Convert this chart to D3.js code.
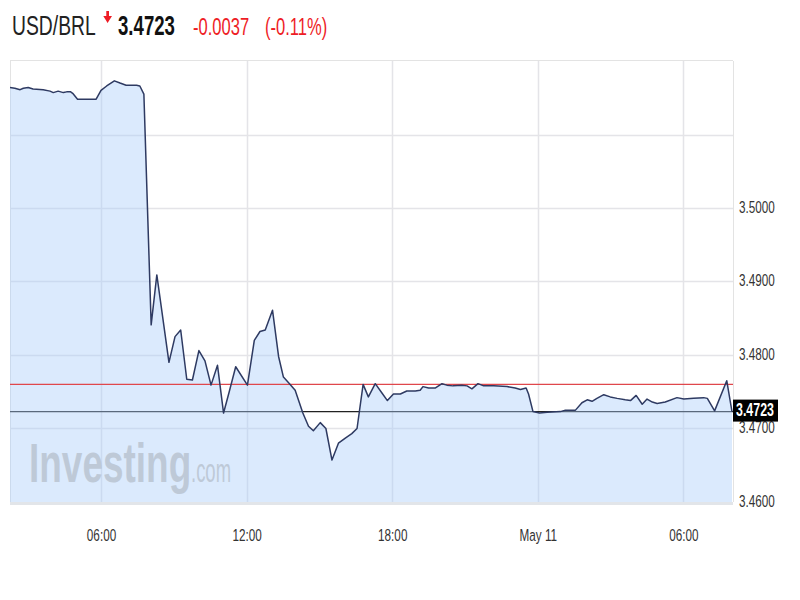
<!DOCTYPE html>
<html><head><meta charset="utf-8">
<script src="https://cdn.jsdelivr.net/npm/d3@7"></script>
<style>
body{margin:0;background:#fff}
svg{display:block}
text{font-family:"Liberation Sans",Arial,sans-serif}
</style>
</head><body>
<svg id="chart" width="800" height="600"></svg>
<script>
// ---- data ----
const symbol = "USD/BRL";
const lastPrice = "3.4723";
const change = "-0.0037";
const changePct = "(-0.11%)";
const prevClose = 3.4760;
const lastValue = 3.4723;

const times = [
 "2016-05-10 02:15","2016-05-10 02:27","2016-05-10 02:40","2016-05-10 02:48","2016-05-10 03:00",
 "2016-05-10 03:12","2016-05-10 03:37","2016-05-10 03:54","2016-05-10 04:02","2016-05-10 04:14",
 "2016-05-10 04:27","2016-05-10 04:35","2016-05-10 04:45","2016-05-10 04:50","2016-05-10 05:02",
 "2016-05-10 05:48","2016-05-10 06:00","2016-05-10 06:14","2016-05-10 06:33","2016-05-10 06:47",
 "2016-05-10 07:02","2016-05-10 07:28","2016-05-10 07:36","2016-05-10 07:46","2016-05-10 08:04",
 "2016-05-10 08:18","2016-05-10 08:48","2016-05-10 09:03","2016-05-10 09:17","2016-05-10 09:32",
 "2016-05-10 09:46","2016-05-10 10:02","2016-05-10 10:17","2016-05-10 10:32","2016-05-10 10:48",
 "2016-05-10 11:03","2016-05-10 11:17","2016-05-10 11:33","2016-05-10 12:02","2016-05-10 12:19",
 "2016-05-10 12:33","2016-05-10 12:46","2016-05-10 13:04","2016-05-10 13:19","2016-05-10 13:31",
 "2016-05-10 13:46","2016-05-10 14:00","2016-05-10 14:19","2016-05-10 14:33","2016-05-10 14:45",
 "2016-05-10 15:02","2016-05-10 15:16","2016-05-10 15:31","2016-05-10 15:47","2016-05-10 16:04",
 "2016-05-10 16:20","2016-05-10 16:33","2016-05-10 16:48","2016-05-10 17:01","2016-05-10 17:18",
 "2016-05-10 17:35","2016-05-10 17:48","2016-05-10 18:03","2016-05-10 18:20","2016-05-10 18:36",
 "2016-05-10 18:57","2016-05-10 19:09","2016-05-10 19:16","2016-05-10 19:30","2016-05-10 19:46",
 "2016-05-10 20:03","2016-05-10 20:15","2016-05-10 20:30","2016-05-10 20:52","2016-05-10 21:05",
 "2016-05-10 21:17","2016-05-10 21:32","2016-05-10 21:46","2016-05-10 22:11","2016-05-10 22:44",
 "2016-05-10 23:04","2016-05-10 23:17","2016-05-10 23:31","2016-05-10 23:37","2016-05-10 23:48",
 "2016-05-11 00:04","2016-05-11 00:23","2016-05-11 00:56","2016-05-11 01:08","2016-05-11 01:33",
 "2016-05-11 01:49","2016-05-11 02:02","2016-05-11 02:14","2016-05-11 02:26","2016-05-11 02:43",
 "2016-05-11 02:59","2016-05-11 03:16","2016-05-11 03:36","2016-05-11 03:49","2016-05-11 04:03",
 "2016-05-11 04:18","2016-05-11 04:30","2016-05-11 04:43","2016-05-11 04:55","2016-05-11 05:15",
 "2016-05-11 05:44","2016-05-11 06:01","2016-05-11 06:25","2016-05-11 06:50","2016-05-11 06:59",
 "2016-05-11 07:17","2016-05-11 07:47","2016-05-11 08:00"
];
const values = [
 3.5164,3.5163,3.5161,3.5163,3.5164,
 3.5162,3.5161,3.5159,3.5157,3.5159,
 3.5157,3.5158,3.5158,3.5156,3.5148,
 3.5148,3.5160,3.5166,3.5173,3.5170,
 3.5167,3.5167,3.5166,3.5155,3.4841,
 3.4909,3.4790,3.4825,3.4834,3.4767,
 3.4766,3.4806,3.4792,3.4759,3.4786,
 3.4721,3.4750,3.4784,3.4759,3.4820,
 3.4832,3.4834,3.4861,3.4798,3.4770,
 3.4761,3.4752,3.4721,3.4703,3.4697,
 3.4708,3.4700,3.4657,3.4680,3.4687,
 3.4693,3.4700,3.4760,3.4743,3.4761,
 3.4748,3.4738,3.4747,3.4747,3.4751,
 3.4751,3.4752,3.4757,3.4755,3.4755,
 3.4761,3.4759,3.4758,3.4759,3.4758,
 3.4754,3.4761,3.4758,3.4758,3.4757,
 3.4755,3.4753,3.4755,3.4747,3.4723,
 3.4721,3.4722,3.4723,3.4725,3.4725,
 3.4735,3.4739,3.4737,3.4741,3.4746,
 3.4743,3.4741,3.4739,3.4738,3.4745,
 3.4733,3.4740,3.4736,3.4734,3.4736,
 3.4742,3.4740,3.4741,3.4742,3.4741,
 3.4724,3.4765,3.4723
];
const timeDomain = ["2016-05-10 02:15","2016-05-11 08:00"];
const valueDomain = [3.46, 3.52];
const xTickTimes = ["2016-05-10 06:00","2016-05-10 12:00","2016-05-10 18:00","2016-05-11 00:00","2016-05-11 06:00"];
const xTickLabels = ["06:00","12:00","18:00","May 11","06:00"];
const yGridValues = [3.47, 3.48, 3.49, 3.50, 3.51];
const yLabelValues = [3.46, 3.47, 3.48, 3.49, 3.50];

// ---- drawing ----
const parse = d3.timeParse("%Y-%m-%d %H:%M");
const data = times.map((t,i)=>({t:parse(t), v:values[i]}));
const SX = 0.69; // horizontal text compression of the picture

const L = 10, R = 733, T = 61, B = 502;
const x = d3.scaleTime().domain(timeDomain.map(parse)).range([L, 732]);
const y = d3.scaleLinear().domain(valueDomain).range([B, T]);

const svg = d3.select("#chart");

// title
const title = svg.append("g");
function ctext(g, px, py, str, size, fill, weight, anchor){
  return g.append("text")
    .attr("transform", `translate(${px},${py}) scale(${SX},1)`)
    .attr("font-size", size).attr("fill", fill)
    .attr("font-weight", weight || "normal")
    .attr("text-anchor", anchor || "start")
    .text(str);
}
ctext(title, 12, 35, symbol, 28, "#222");
title.append("path")
  .attr("d", "M106.3,11 L109,11 L109,16 L112,16 L107.6,23 L103.3,16 L106.3,16 Z")
  .attr("fill", "#ee1c25");
ctext(title, 118, 35, lastPrice, 27, "#111", "bold");
ctext(title, 193, 35, change, 24, "#ee1c25");
ctext(title, 265, 35, changePct, 24, "#ee1c25");

// frame
svg.append("line").attr("x1", L).attr("x2", R).attr("y1", 60.5).attr("y2", 60.5)
  .attr("stroke", "#e3e3e3").attr("stroke-width", 1);
svg.append("line").attr("x1", L).attr("x2", R).attr("y1", B+1.5).attr("y2", B+1.5)
  .attr("stroke", "#e2e5e9").attr("stroke-width", 3);

// grid
const grid = svg.append("g");
grid.selectAll("line.h").data(yGridValues).join("line").attr("class","h")
  .attr("x1", L).attr("x2", R).attr("y1", d=>Math.round(y(d))+0.5).attr("y2", d=>Math.round(y(d))+0.5)
  .attr("stroke", "#e4e4e8").attr("stroke-width", 1.5);
grid.selectAll("line.v").data(xTickTimes.map(parse)).join("line").attr("class","v")
  .attr("x1", d=>Math.round(x(d))+0.5).attr("x2", d=>Math.round(x(d))+0.5).attr("y1", T).attr("y2", B)
  .attr("stroke", "#e4e4e8").attr("stroke-width", 1.5);
svg.append("line").attr("x1", L+0.5).attr("x2", L+0.5).attr("y1", T).attr("y2", B)
  .attr("stroke", "#e3e3e3");
svg.append("line").attr("x1", R+0.5).attr("x2", R+0.5).attr("y1", T).attr("y2", B)
  .attr("stroke", "#e3e3e3");

// last-price reference line (under fill)
svg.append("line").attr("x1", L).attr("x2", R).attr("y1", y(lastValue)).attr("y2", y(lastValue))
  .attr("stroke", "#222").attr("stroke-width", 1.2);

// area
const area = d3.area().x(d=>x(d.t)).y0(y(valueDomain[0])).y1(d=>y(d.v));
svg.append("path").datum(data).attr("d", area)
  .attr("fill", "rgb(170,205,250)").attr("fill-opacity", 0.42);

// watermark
const wm = svg.append("g");
wm.append("text").attr("transform", `translate(29,482) scale(0.66,1)`)
  .attr("font-size", 56).attr("font-weight", "bold").attr("fill", "#b9c4d1").attr("fill-opacity", 0.85)
  .text("Investing");
wm.append("text").attr("transform", `translate(191,482) scale(0.56,1)`)
  .attr("font-size", 33).attr("fill", "#b9c4d1").attr("fill-opacity", 0.85)
  .text(".com");

// previous close line
svg.append("line").attr("x1", L).attr("x2", R).attr("y1", y(prevClose)).attr("y2", y(prevClose))
  .attr("stroke", "#e0474c").attr("stroke-width", 1.2);

// price line
const line = d3.line().x(d=>x(d.t)).y(d=>y(d.v));
svg.append("path").datum(data).attr("d", line)
  .attr("fill", "none").attr("stroke", "#2e3a62").attr("stroke-width", 1.5)
  .attr("stroke-linejoin", "round");

// right axis
const yAxis = d3.axisRight(y).tickValues(yLabelValues).tickFormat(d3.format(".4f"))
  .tickSize(0).tickPadding(0);
const ya = svg.append("g").attr("transform", `translate(${R},0)`).call(yAxis);
ya.select(".domain").remove();
ya.selectAll("text").attr("x", null).attr("dy", null)
  .attr("transform", `translate(6,4) scale(${SX},1)`)
  .attr("font-size", 17).attr("fill", "#333")
  .style("font-family", '"Liberation Sans",Arial,sans-serif');

// bottom axis
const xAxis = d3.axisBottom(x).tickValues(xTickTimes.map(parse))
  .tickFormat((d,i)=>xTickLabels[i]).tickSize(0).tickPadding(0);
const xa = svg.append("g").attr("transform", `translate(0,${B})`).call(xAxis);
xa.select(".domain").remove();
xa.selectAll("text").attr("y", null).attr("dy", null)
  .attr("transform", `translate(0,39) scale(${SX},1)`)
  .attr("font-size", 17).attr("fill", "#333")
  .style("font-family", '"Liberation Sans",Arial,sans-serif');

// last price badge
const by = y(lastValue);
svg.append("rect").attr("x", R).attr("y", by-12).attr("width", 45).attr("height", 22).attr("fill", "#000");
ctext(svg, R+3, by+4, lastPrice, 18, "#fff", "bold");
</script>
</body></html>
